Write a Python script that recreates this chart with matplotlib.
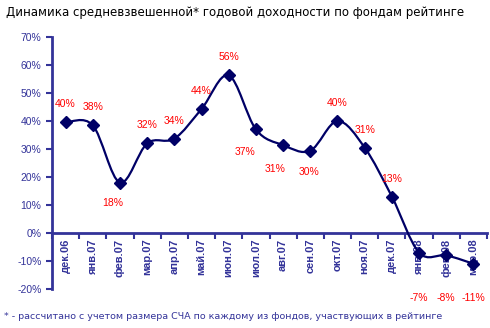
import matplotlib

matplotlib.use("Agg")
import matplotlib.pyplot as plt
import numpy as np
from matplotlib.path import Path
from matplotlib.patches import PathPatch

TITLE = "Динамика средневзвешенной* годовой доходности по фондам рейтинге"
NOTE = "* - рассчитано с учетом размера СЧА по каждому из фондов, участвующих в рейтинге"
MONTHS = ["дек.06", "янв.07", "фев.07", "мар.07", "апр.07", "май.07", "июн.07",
          "июл.07", "авг.07", "сен.07", "окт.07", "ноя.07", "дек.07", "янв.08",
          "фев.08", "мар.08"]
RETURNS = [39.5, 38.5, 18.0, 32.0, 33.7, 44.3, 56.3, 37.0, 31.4, 29.4, 40.0,
           30.5, 13.0, -7.0, -8.0, -11.0]
LABELS = ["40%", "38%", "18%", "32%", "34%", "44%", "56%", "37%", "31%", "30%",
          "40%", "31%", "13%", "-7%", "-8%", "-11%"]
# label offsets in points (dx, dy) relative to each marker
OFFSETS = [(0, 13), (0, 13), (-5, -15), (0, 13), (0, 13), (0, 13), (0, 13),
           (-8, -16), (-6, -17), (-1, -15), (0, 13), (0, 13), (0, 13),
           (0, -33), (0, -31), (0, -25)]

NAVY = "#000066"
AXBLUE = "#333399"


def smooth_path(x, y, t=1 / 6):
    # Excel-style smoothed line: cubic bezier with catmull-rom control points
    verts, codes = [(x[0], y[0])], [Path.MOVETO]
    n = len(x)
    for i in range(n - 1):
        p0 = np.array([x[max(i - 1, 0)], y[max(i - 1, 0)]])
        p1 = np.array([x[i], y[i]])
        p2 = np.array([x[i + 1], y[i + 1]])
        p3 = np.array([x[min(i + 2, n - 1)], y[min(i + 2, n - 1)]])
        c1 = p1 + (p2 - p0) * t
        c2 = p2 - (p3 - p1) * t
        verts += [tuple(c1), tuple(c2), tuple(p2)]
        codes += [Path.CURVE4] * 3
    return Path(verts, codes)


def main():
    fig = plt.figure(figsize=(4.9, 3.28), dpi=100)
    ax = fig.add_axes([0.106, 0.119, 0.888, 0.768])
    x = np.arange(len(MONTHS))

    # smoothing done in pixel-like scaled coords so the shape isn't distorted
    sx = x * 27.2
    sy = np.array(RETURNS) * 2.8
    p = smooth_path(sx, sy)
    p = Path(p.vertices / [27.2, 2.8], p.codes)
    ax.add_patch(PathPatch(p, facecolor="none", edgecolor=NAVY, lw=1.6, zorder=3))
    ax.plot(x, RETURNS, ls="none", marker="D", ms=6, color=NAVY, zorder=4)

    for xi, yi, lab, (dx, dy) in zip(x, RETURNS, LABELS, OFFSETS):
        ax.annotate(lab, (xi, yi), xytext=(dx, dy), textcoords="offset points",
                    ha="center", va="center", color="#ff0000", fontsize=7.5,
                    family="Liberation Sans")

    ax.set_xlim(-0.5, len(MONTHS) - 0.5)
    ax.set_ylim(-20, 70)
    ax.set_yticks(range(-20, 71, 10))
    ax.set_yticklabels([f"{v}%" for v in range(-20, 71, 10)])
    ax.set_xticks(x)
    ax.set_xticks(np.arange(-0.5, len(MONTHS)), minor=True)
    ax.set_xticklabels(MONTHS)

    for s in ("top", "right"):
        ax.spines[s].set_visible(False)
    ax.spines["bottom"].set_position(("data", 0))
    for s in ("left", "bottom"):
        ax.spines[s].set_color(AXBLUE)
        ax.spines[s].set_linewidth(2)
    ax.tick_params(axis="x", which="major", length=0, pad=4, labelcolor=AXBLUE,
                   labelsize=8, labelrotation=90)
    ax.tick_params(axis="x", which="minor", length=4, width=1.5, color=AXBLUE,
                   direction="out")
    ax.tick_params(axis="y", length=4, width=1.5, color=AXBLUE, labelcolor=AXBLUE,
                   labelsize=7.5)
    for lab in ax.get_xticklabels() + ax.get_yticklabels():
        lab.set_family("Liberation Sans")
    for lab in ax.get_xticklabels():
        lab.set_fontweight("bold")
        lab.set_rotation(90)
        lab.set_va("top")
        lab.set_ha("center")

    fig.text(0.012, 0.963, TITLE, fontsize=8.5, va="center", ha="left",
             family="DejaVu Sans")
    fig.text(0.008, 0.036, NOTE, fontsize=6.8, va="center", ha="left",
             color=AXBLUE, family="DejaVu Sans")

    fig.savefig("out.png", dpi=100)
    plt.close(fig)


if __name__ == "__main__":
    main()
